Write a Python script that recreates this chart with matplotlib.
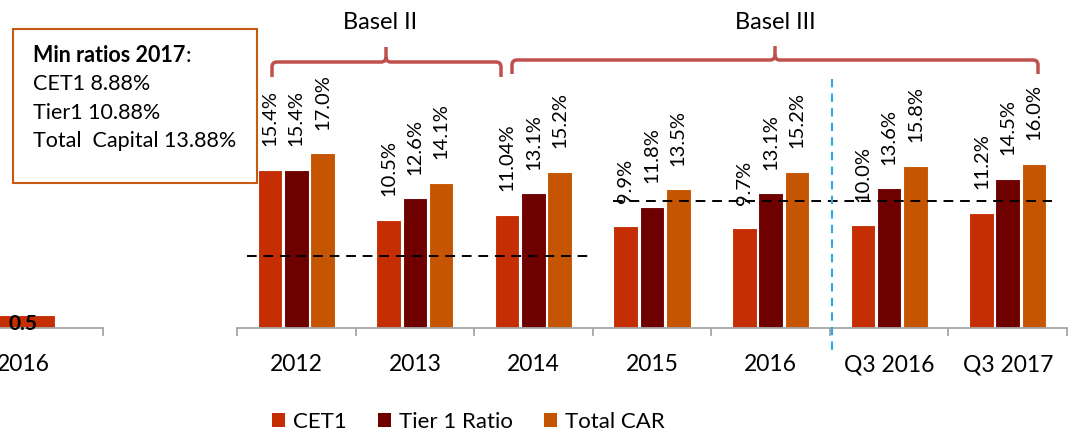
import numpy as np
import matplotlib
matplotlib.use("Agg")
import matplotlib.pyplot as plt
from matplotlib.patches import Patch, Rectangle, PathPatch
from matplotlib.path import Path
from matplotlib.lines import Line2D
from matplotlib.transforms import Affine2D

plt.rcParams['font.family'] = ['Lato', 'DejaVu Sans']

# Capital ratios (%)
periods = ["2012", "2013", "2014", "2015", "2016", "Q3 2016", "Q3 2017"]
cet1 = [15.4, 10.5, 11.04, 9.9, 9.7, 10.0, 11.2]
tier1 = [15.4, 12.6, 13.1, 11.8, 13.1, 13.6, 14.5]
total_car = [17.0, 14.1, 15.2, 13.5, 15.2, 15.8, 16.0]
series_names = ["CET1", "Tier 1 Ratio", "Total CAR"]

# Regulatory minimum reference lines (%)
min_levels = [7.0, 12.4]

# Neighbouring panel (partly visible)
left_period = ["2016"]
left_value = [0.5]

colors = ["#C42E02", "#6E0000", "#C55500"]
axis_gray = "#A6A6A6"

W, H = 1074, 432
fig = plt.figure(figsize=(W / 100, H / 100), dpi=100)

# pixel (top-left origin) -> figure transform
px = Affine2D().scale(1 / W, -1 / H).translate(0, 1) + fig.transFigure


def fmt(v):
    return f"{v:.2f}%" if round(v, 1) != v else f"{v:.1f}%"


def style_axis(a, n):
    for s in ["top", "right", "left"]:
        a.spines[s].set_visible(False)
    a.spines["bottom"].set_color(axis_gray)
    a.spines["bottom"].set_linewidth(1.3)
    a.set_yticks([])
    a.set_xticks(np.arange(n))
    a.set_xticks(np.arange(-0.5, n, 1), minor=True)
    a.tick_params(axis="x", which="major", length=0, pad=19, labelsize=16.5)
    a.tick_params(axis="x", which="minor", length=6, width=1.3, color=axis_gray)
    a.set_xlim(-0.5, n - 0.5)
    a.patch.set_alpha(0)


# main panel
ax = fig.add_axes([237 / W, 1 - 328 / H, 830 / W, 257 / H])
x = np.arange(len(periods))
width = 0.207
step = 0.222
for i, (vals, c, name) in enumerate(zip([cet1, tier1, total_car], colors, series_names)):
    bars = ax.bar(x + (i - 1) * step, vals, width, color=c, edgecolor="white",
                  linewidth=0.8, label=name, zorder=2)
    for b, v in zip(bars, vals):
        ax.annotate(fmt(v), (b.get_x() + b.get_width() / 2, v), xytext=(0, 17),
                    textcoords="offset points", rotation=90, ha="center",
                    va="bottom", fontsize=14.5)
ax.set_ylim(0, 25)
ax.set_xticklabels(periods)
style_axis(ax, len(periods))

ax.hlines(min_levels[0], -0.416, 2.5, colors="black", linestyles=(0, (5, 3.5)),
          linewidth=1.4, zorder=3)
ax.hlines(min_levels[1], 2.67, 6.37, colors="black", linestyles=(0, (5, 3.5)),
          linewidth=1.4, zorder=3)

# partial neighbouring panel on the left
ax0 = fig.add_axes([-57 / W, 1 - 328 / H, 160 / W, 257 / H])
ax0.bar([0], left_value, 0.4, color=colors[0], edgecolor="white", linewidth=0.8)
ax0.text(0, left_value[0] * 0.3, f"{left_value[0]}", ha="center", va="center",
         fontsize=15, fontweight="bold")
ax0.set_ylim(0, 10)
ax0.set_xticklabels(left_period)
style_axis(ax0, 1)

# vertical separator between annual and quarterly data
fig.add_artist(Line2D([832, 832], [79, 352], transform=px, color="#29ABE2",
                      linewidth=1.5, linestyle=(0, (4, 3))))


# curly brackets for the Basel periods
def brace(x0, x1, xm, y_end, y_bar, y_tip, r=5):
    verts = [(x0, y_end), (x0, y_bar + r), (x0, y_bar), (x0 + r, y_bar),
             (xm - r, y_bar), (xm, y_bar), (xm, y_bar - r), (xm, y_tip),
             (xm, y_bar - r), (xm, y_bar), (xm + r, y_bar),
             (x1 - r, y_bar), (x1, y_bar), (x1, y_bar + r), (x1, y_end)]
    codes = [Path.MOVETO, Path.LINETO, Path.CURVE3, Path.CURVE3,
             Path.LINETO, Path.CURVE3, Path.CURVE3, Path.LINETO,
             Path.MOVETO, Path.CURVE3, Path.CURVE3,
             Path.LINETO, Path.CURVE3, Path.CURVE3, Path.LINETO]
    fig.add_artist(PathPatch(Path(verts, codes), transform=px, fill=False,
                             edgecolor="#C0504D", linewidth=2.5, capstyle="butt"))


brace(272, 501, 386, 77, 62, 47)
brace(512, 1038, 775, 74, 60, 46)
fig.text(380, 29, "Basel II", transform=px, ha="center", va="baseline", fontsize=17)
fig.text(775, 29, "Basel III", transform=px, ha="center", va="baseline", fontsize=17)

# minimum ratios box
fig.add_artist(Rectangle((13, 29), 244, 154, transform=px, fill=False,
                         edgecolor="#C55A11", linewidth=1.5))
t = fig.text(33, 62, "Min ratios 2017", transform=px, fontsize=15.5,
             fontweight="bold", va="baseline")
fig.add_artist(matplotlib.text.Annotation(":", xy=(1, 0), xycoords=t, fontsize=15.5,
                                          va="bottom"))
for i, line in enumerate(["CET1 8.88%", "Tier1 10.88%", "Total  Capital 13.88%"]):
    fig.text(33, 90 + i * 28.7, line, transform=px, fontsize=15.5, va="baseline")

handles = [Patch(facecolor=c, label=n) for c, n in zip(colors, series_names)]
fig.legend(handles=handles, loc="center", bbox_to_anchor=(468 / W, 1 - 422 / H),
           ncol=3, frameon=False, fontsize=16, handlelength=0.6, handleheight=0.6,
           handletextpad=0.35, columnspacing=1.4)

fig.savefig("out.png", dpi=100)
